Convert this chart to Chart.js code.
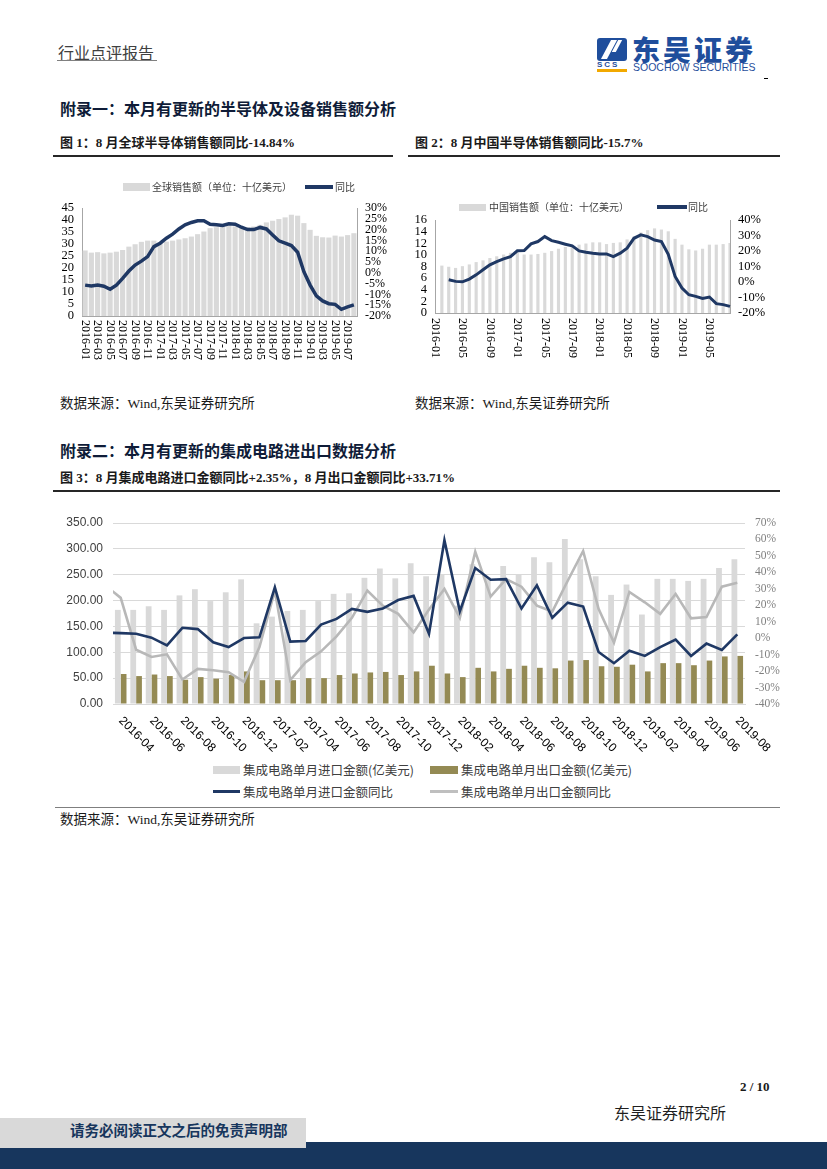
<!DOCTYPE html>
<html>
<head>
<meta charset="utf-8">
<script src="https://cdn.jsdelivr.net/npm/chart.js@4.4.1/dist/chart.umd.min.js"></script>
<style>
  body { margin: 0; width: 827px; height: 1169px; position: relative; background: #fff; overflow: hidden;
         font-family: "Liberation Serif", "Noto Sans CJK SC", serif; color: #1a1a1a; }
  .t { position: absolute; white-space: nowrap; }
  .abs { position: absolute; }
  canvas { position: absolute; }
  .lg { position: absolute; white-space: nowrap; font-family: "Noto Sans CJK SC", sans-serif; color: #404040; }
</style>
</head>
<body>

<!-- page header -->
<div class="t" style="left:58px;top:43px;font-size:16px;line-height:18px;color:#404040;font-family:'Noto Sans CJK SC'">行业点评报告</div>
<div class="abs" style="left:57px;top:60px;width:100px;height:1px;background:#808080"></div>

<div class="abs" style="left:597px;top:38px;width:30px;height:23px;background:#1f4e9c;border-radius:3px"></div>
<div class="abs" style="left:606px;top:40px;width:6px;height:19px;background:#fff;transform:skewX(-28deg)"></div>
<div class="abs" style="left:615px;top:40px;width:4px;height:12px;background:#fff;transform:skewX(-28deg)"></div>
<div class="t" style="left:597px;top:61px;font-size:8px;line-height:8px;font-weight:bold;color:#1f4e9c;font-family:'Liberation Sans';letter-spacing:2px">SCS</div>
<div class="abs" style="left:597px;top:69px;width:30px;height:3px;background:#f2a900"></div>
<div class="t" style="left:632px;top:34px;font-size:28px;line-height:30px;font-weight:900;color:#1f4e9c;font-family:'Noto Sans CJK SC';letter-spacing:3px">东吴证券</div>
<div class="t" style="left:633px;top:62px;font-size:10.5px;line-height:11px;color:#1f4e9c;font-family:'Liberation Sans'">SOOCHOW SECURITIES</div>
<div class="abs" style="left:764px;top:78px;width:4px;height:1px;background:#000"></div>

<!-- section 1 -->
<div class="t" style="left:60px;top:101px;font-size:16px;line-height:18px;font-weight:bold;color:#0f1c38">附录一：本月有更新的半导体及设备销售额分析</div>
<div class="t" style="left:60px;top:135px;font-size:13px;line-height:16px;font-weight:bold">图 1：8 月全球半导体销售额同比-14.84%</div>
<div class="t" style="left:415px;top:135px;font-size:13px;line-height:16px;font-weight:bold">图 2：8 月中国半导体销售额同比-15.7%</div>
<div class="abs" style="left:53px;top:155px;width:340px;height:2px;background:#262626"></div>
<div class="abs" style="left:408px;top:155px;width:372px;height:2px;background:#262626"></div>

<canvas id="c1" width="345" height="210" style="left:55px;top:175px"></canvas>
<div class="abs" style="left:123px;top:183px;width:27px;height:8px;background:#d9d9d9"></div>
<div class="lg" style="left:152px;top:181px;font-size:10px;line-height:12px">全球销售额（单位：十亿美元）</div>
<div class="abs" style="left:305px;top:185px;width:28px;height:4px;background:#1f3864"></div>
<div class="lg" style="left:335px;top:181px;font-size:10px;line-height:12px">同比</div>

<canvas id="c2" width="370" height="180" style="left:410px;top:195px"></canvas>
<div class="abs" style="left:459px;top:204px;width:27px;height:7px;background:#d9d9d9"></div>
<div class="lg" style="left:489px;top:201px;font-size:10px;line-height:12px">中国销售额（单位：十亿美元）</div>
<div class="abs" style="left:657px;top:205px;width:30px;height:4px;background:#1f3864"></div>
<div class="lg" style="left:688px;top:201px;font-size:10px;line-height:12px">同比</div>

<div class="t" style="left:60px;top:396px;font-size:13.5px;line-height:16px">数据来源：Wind,东吴证券研究所</div>
<div class="t" style="left:415px;top:396px;font-size:13.5px;line-height:16px">数据来源：Wind,东吴证券研究所</div>

<!-- section 2 -->
<div class="t" style="left:60px;top:443px;font-size:16px;line-height:18px;font-weight:bold;color:#0f1c38">附录二：本月有更新的集成电路进出口数据分析</div>
<div class="t" style="left:60px;top:470px;font-size:13px;line-height:16px;font-weight:bold">图 3：8 月集成电路进口金额同比+2.35%，8 月出口金额同比+33.71%</div>
<div class="abs" style="left:53px;top:490px;width:727px;height:2px;background:#262626"></div>

<canvas id="c3" width="725" height="255" style="left:55px;top:505px"></canvas>
<div class="abs" style="left:213px;top:766px;width:27px;height:8px;background:#d9d9d9"></div>
<div class="lg" style="left:243px;top:763px;font-size:12.5px;line-height:14px">集成电路单月进口金额(亿美元)</div>
<div class="abs" style="left:430px;top:766px;width:28px;height:8px;background:#948a54"></div>
<div class="lg" style="left:461px;top:763px;font-size:12.5px;line-height:14px">集成电路单月出口金额(亿美元)</div>
<div class="abs" style="left:213px;top:790px;width:27px;height:3px;background:#1f3864"></div>
<div class="lg" style="left:243px;top:785px;font-size:12.5px;line-height:14px">集成电路单月进口金额同比</div>
<div class="abs" style="left:430px;top:790px;width:28px;height:3px;background:#bfbfbf"></div>
<div class="lg" style="left:461px;top:785px;font-size:12.5px;line-height:14px">集成电路单月出口金额同比</div>
<div class="abs" style="left:55px;top:807px;width:725px;height:1px;background:#7f7f7f"></div>
<div class="t" style="left:60px;top:812px;font-size:13.5px;line-height:16px">数据来源：Wind,东吴证券研究所</div>

<!-- footer -->
<div class="t" style="left:740px;top:1079px;font-size:13px;line-height:16px;font-weight:bold">2 / 10</div>
<div class="t" style="left:614px;top:1105px;font-size:16px;line-height:18px;color:#1f1f1f">东吴证券研究所</div>
<div class="abs" style="left:0;top:1142px;width:827px;height:27px;background:#17365d"></div>
<div class="abs" style="left:0;top:1118px;width:306px;height:30px;background:#d9d9d9"></div>
<div class="t" style="left:70px;top:1123px;font-size:14.5px;line-height:17px;font-weight:bold;color:#17365d">请务必阅读正文之后的免责声明部</div>

<script>
const months = ['2016-01','2016-02','2016-03','2016-04','2016-05','2016-06','2016-07','2016-08','2016-09','2016-10','2016-11','2016-12',
  '2017-01','2017-02','2017-03','2017-04','2017-05','2017-06','2017-07','2017-08','2017-09','2017-10','2017-11','2017-12',
  '2018-01','2018-02','2018-03','2018-04','2018-05','2018-06','2018-07','2018-08','2018-09','2018-10','2018-11','2018-12',
  '2019-01','2019-02','2019-03','2019-04','2019-05','2019-06','2019-07','2019-08'];

// 图1 全球半导体销售额 (十亿美元) 和同比 (%)
const globalSales = [27.3,26.4,26.6,26.1,26.4,26.8,27.5,28.9,29.9,30.9,31.4,31.4,
  30.6,31.0,31.4,31.9,32.4,33.1,34.1,35.2,36.6,37.0,37.3,37.7,
  37.3,37.0,37.0,37.3,38.0,39.0,39.7,40.4,41.1,42.2,41.8,38.7,
  35.9,33.4,32.8,32.7,33.5,33.1,33.7,34.5];
const globalYoY = [-5.7,-6.1,-5.7,-6.2,-7.6,-5.7,-2.6,0.8,3.6,5.4,7.5,12.1,
  13.7,16.0,17.9,20.3,22.2,23.3,24.1,24.1,22.5,22.2,21.9,22.7,
  22.5,21.1,20.0,20.0,21.0,20.3,17.5,14.8,13.7,12.6,9.5,0.5,
  -5.7,-10.7,-13.0,-14.3,-14.6,-16.9,-15.8,-14.84];

// 图2 中国半导体销售额 (十亿美元) 和同比 (%)
const chinaSales = [null,8.1,7.9,7.7,8.0,8.3,8.7,9.0,9.4,9.7,10.0,10.3,
  10.4,10.0,10.0,10.1,10.3,10.6,11.0,11.3,11.5,11.7,11.9,12.1,
  12.1,11.8,12.0,12.1,12.6,13.1,13.8,14.2,14.5,14.3,14.0,12.7,
  11.7,10.9,10.7,11.0,11.7,11.7,11.8,12.0];
const chinaYoY = [null,null,1.4,0.4,0.1,1.9,4.6,7.9,11.1,13.2,14.9,16.4,
  20.1,20.3,24.6,26.1,29.3,26.7,25.6,24.4,23.3,20.1,19.2,18.6,
  18.1,18.1,16.4,18.6,21.8,28.2,30.4,29.3,27.1,26.1,17.9,3.6,
  -3.9,-8.2,-9.3,-10.6,-9.7,-14.0,-14.6,-15.7];

// 图3 集成电路进出口 (首个月份 2016-03 只用于画出左侧被截断的线段)
const icMonths = months.slice(2);
const icImport = [null,182,182,189,182,210,222,199,216,241,156,
  169,180,182,199,213,214,244,262,243,272,
  247,250,190,270,245,267,251,284,274,319,
  280,247,211,231,173,242,242,238,242,263,280];
const icExport = [null,58,54,57,54,47,52,49,56,63,46,
  46,46,50,50,56,59,61,62,56,63,
  74,59,52,70,63,68,74,70,69,84,
  85,73,72,76,63,79,79,75,84,92,93];
const icImportYoY = [3.3,3.1,2.7,0.3,-4.4,6.3,5.5,-2.5,-5.4,0.1,0.5,
  30.9,-2.1,-1.7,8.3,11.7,17.8,16.0,18.0,23.2,25.7,
  2.7,59.5,16.4,42.6,35.5,35.9,18.0,32.1,12.4,21.6,
  19.2,-8.4,-15.2,-7.6,-10.8,-5.4,-0.9,-10.8,-3.3,-7.2,2.35];
const icExportYoY = [32,24.5,-7,-11.4,-9.8,-25.1,-18.7,-19.5,-20.7,-26.5,-5.4,
  28.9,-25.5,-14.6,-8,1.1,12.4,28.9,19.8,14.8,3.5,
  17.4,29.9,12.4,52.6,25.3,35.9,31.3,19.8,16.2,34.9,
  53,17.8,-2.7,28.1,21.8,14.8,26.9,12.1,12.8,31.3,33.71];

const NAVY = '#1f3864';
const LIGHT = '#d9d9d9';
const AXIS = '#a6a6a6';

// x labels rotated clockwise, drawn at the category scale's own tick pixels
function slantLabels(angle, gap, keep, font, color) {
  return {
    id: 'slantLabels',
    afterDraw(chart) {
      const sc = chart.scales.x;
      const ctx = chart.ctx;
      ctx.save();
      ctx.font = font;
      ctx.fillStyle = color;
      ctx.textAlign = 'left';
      ctx.textBaseline = 'middle';
      sc.ticks.forEach((t, i) => {
        if (!keep(t.value)) return;
        ctx.save();
        ctx.translate(sc.getPixelForTick(i), sc.top + gap);
        ctx.rotate(angle);
        ctx.fillText(sc.getLabelForValue(t.value), 0, 0);
        ctx.restore();
      });
      ctx.restore();
    }
  };
}

const base = {
  responsive: false,
  animation: false,
  devicePixelRatio: 1,
  plugins: { legend: { display: false }, tooltip: { enabled: false } },
  elements: { point: { radius: 0 }, line: { tension: 0 } }
};

const serif12 = { family: 'Liberation Serif', size: 12 };

// chart 1
new Chart(document.getElementById('c1'), {
  data: {
    labels: months,
    datasets: [
      { type: 'line', data: globalYoY, yAxisID: 'y1', borderColor: NAVY, borderWidth: 3.5, order: 0 },
      { type: 'bar', data: globalSales, yAxisID: 'y', backgroundColor: LIGHT,
        categoryPercentage: 1, barPercentage: 0.82, order: 1 }
    ]
  },
  options: {
    ...base,
    layout: { padding: { top: 33, left: 0, right: 0, bottom: 0 } },
    scales: {
      x: { offset: true, grid: { display: false, drawTicks: false }, ticks: { display: false },
           border: { color: AXIS }, afterFit: s => { s.height = 69; } },
      y: { position: 'left', min: 0, max: 45,
           ticks: { stepSize: 5, autoSkip: false, color: '#000', font: { ...serif12, size: 12.5 }, padding: 8 },
           grid: { display: false, drawTicks: false }, border: { color: AXIS }, afterFit: s => { s.width = 27; } },
      y1: { position: 'right', min: -20, max: 30,
            ticks: { stepSize: 5, autoSkip: false, color: '#000', font: serif12, padding: 8, callback: v => Math.round(v) + '%' },
            grid: { display: false, drawTicks: false }, border: { color: AXIS }, afterFit: s => { s.width = 43; } }
    }
  },
  plugins: [slantLabels(Math.PI / 2, 4, v => v % 2 === 0, '12px "Liberation Serif"', '#000')]
});

// chart 2
new Chart(document.getElementById('c2'), {
  data: {
    labels: months,
    datasets: [
      { type: 'line', data: chinaYoY, yAxisID: 'y1', borderColor: NAVY, borderWidth: 3, order: 0 },
      { type: 'bar', data: chinaSales, yAxisID: 'y', backgroundColor: LIGHT, barThickness: 2.5, order: 1 }
    ]
  },
  options: {
    ...base,
    layout: { padding: { top: 25, left: 0, right: 0, bottom: 0 } },
    scales: {
      x: { offset: false, grid: { display: false, drawTicks: false }, ticks: { display: false },
           border: { color: AXIS }, afterFit: s => { s.height = 62; } },
      y: { position: 'left', min: 0, max: 16,
           ticks: { stepSize: 2, autoSkip: false, color: '#000', font: { ...serif12, size: 12.5 }, padding: 8 },
           grid: { display: false, drawTicks: false }, border: { color: AXIS }, afterFit: s => { s.width = 25; } },
      y1: { position: 'right', min: -20, max: 40,
            ticks: { stepSize: 10, autoSkip: false, color: '#000', font: { ...serif12, size: 12.5 }, padding: 8,
                     callback: v => Math.round(v) + '%' },
            grid: { display: false, drawTicks: false }, border: { color: AXIS }, afterFit: s => { s.width = 50; } }
    }
  },
  plugins: [slantLabels(Math.PI / 2, 5, v => v % 4 === 0, '12px "Liberation Serif"', '#000')]
});

// chart 3
new Chart(document.getElementById('c3'), {
  data: {
    labels: icMonths,
    datasets: [
      { type: 'bar', data: icImport, yAxisID: 'y', backgroundColor: LIGHT,
        categoryPercentage: 0.75, barPercentage: 1, order: 2 },
      { type: 'bar', data: icExport, yAxisID: 'y', backgroundColor: '#948a54',
        categoryPercentage: 0.75, barPercentage: 1, order: 3 },
      { type: 'line', data: icImportYoY, yAxisID: 'y1', borderColor: NAVY, borderWidth: 2.6, order: 0 },
      { type: 'line', data: icExportYoY, yAxisID: 'y1', borderColor: '#b8b8b8', borderWidth: 2.6, order: 1 }
    ]
  },
  options: {
    ...base,
    layout: { padding: { top: 18, left: 0, right: 0, bottom: 0 } },
    scales: {
      x: { min: '2016-04', offset: true, grid: { display: false, drawTicks: false }, ticks: { display: false },
           border: { color: LIGHT }, afterFit: s => { s.height = 56; } },
      y: { position: 'left', min: 0, max: 350,
           ticks: { stepSize: 50, autoSkip: false, color: '#404040', font: { family: 'Liberation Sans', size: 12 }, padding: 10,
                    callback: v => v.toFixed(2) },
           grid: { color: LIGHT, drawTicks: false }, border: { display: false }, afterFit: s => { s.width = 58; } },
      y1: { position: 'right', min: -40, max: 70,
            ticks: { stepSize: 10, autoSkip: false, color: '#808080', font: { family: 'Liberation Serif', size: 11.5 }, padding: 10,
                     callback: v => Math.round(v) + '%' },
            grid: { display: false, drawTicks: false }, border: { display: false }, afterFit: s => { s.width = 35; } }
    }
  },
  plugins: [slantLabels(Math.PI / 4, 15, v => (v - 1) % 2 === 0, '12px "Liberation Sans"', '#000')]
});
</script>
</body>
</html>
